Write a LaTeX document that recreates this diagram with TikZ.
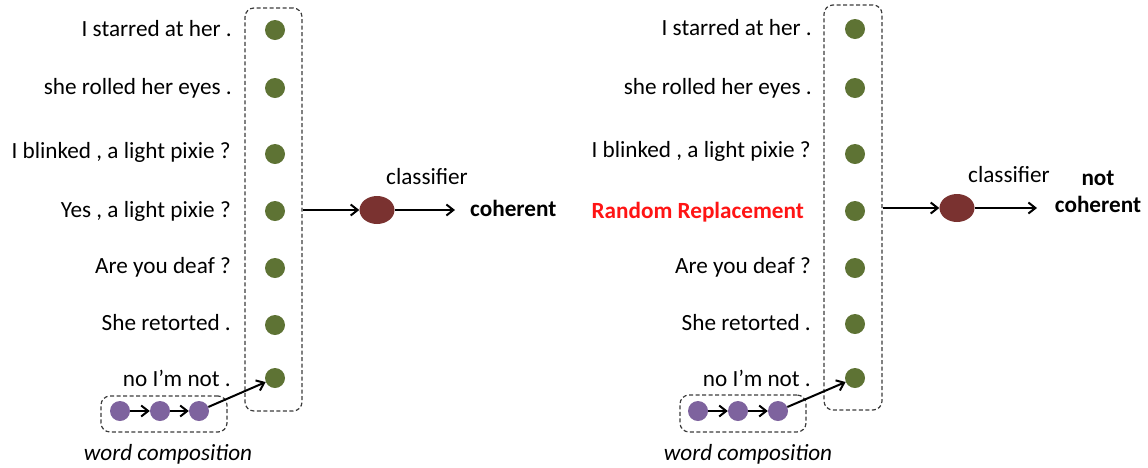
\documentclass[tikz,border=0pt]{standalone}
\usepackage{fontspec}
\setmainfont{Carlito}
\usetikzlibrary{arrows.meta,shapes.geometric}
\definecolor{gdotc}{RGB}{94,115,52}
\definecolor{pdotc}{RGB}{126,99,158}
\definecolor{clsc}{RGB}{122,50,48}
\definecolor{boxc}{RGB}{60,60,60}
\definecolor{redtxt}{RGB}{255,20,20}
\begin{document}
\begin{tikzpicture}[x=1pt,y=-1pt,
  txt/.style={inner sep=0pt,font=\fontsize{23.2}{28}\selectfont},
  sent/.style={txt,anchor=east},
  gdot/.style={circle,fill=gdotc,minimum size=20pt,inner sep=0pt},
  pdot/.style={circle,fill=pdotc,minimum size=20pt,inner sep=0pt},
  dbox/.style={draw=boxc,dash pattern=on 4pt off 2.5pt,line width=1.2pt,rounded corners=9pt,inner sep=0pt},
  cls/.style={ellipse,fill=clsc,minimum width=35pt,minimum height=28pt,inner sep=0pt},
  arr/.style={-{Straight Barb[length=7pt,width=11pt]},line width=2pt}
]
\useasboundingbox (0,0) rectangle (1148,467);
% ---------- left panel ----------
\node[sent] (s1) at (232,29) {I starred at her .};
\node[sent] (s2) at (232,88) {she rolled her eyes .};
\node[sent] (s3) at (231,152) {I blinked , a light pixie ?};
\node[sent] (s4) at (231,211) {Yes , a light pixie ?};
\node[sent] (s5) at (231,267) {Are you deaf ?};
\node[sent] (s6) at (231,323) {She retorted .};
\node[sent] (s7) at (231,378) {no I’m not .};
\node[gdot] (g1) at (275,30) {};
\node[gdot] (g2) at (275,88) {};
\node[gdot] (g3) at (275,154) {};
\node[gdot] (g4) at (275,211) {};
\node[gdot] (g5) at (275,268) {};
\node[gdot] (g6) at (275,325) {};
\node[gdot] (g7) at (275,378) {};
\node[dbox,minimum width=57pt,minimum height=403pt] (B) at (273.5,209.5) {};
\node[pdot] (p1) at (120,411) {};
\node[pdot] (p2) at (160,411) {};
\node[pdot] (p3) at (199,411) {};
\node[dbox,minimum width=126pt,minimum height=36pt] (P) at (164,414) {};
\node[txt,font=\fontsize{23.2}{28}\selectfont\itshape] (wc) at (168,454) {word composition};
\draw[arr] (p1) -- (p2);
\draw[arr] (p2) -- (p3);
\draw[arr] (p3) -- (g7);
\node[cls] (c) at (377,210) {};
\node[txt] (cl) at (427,177) {classifier};
\coordinate (o) at (455,210);
\node[txt,anchor=west,font=\fontsize{23.2}{28}\selectfont\bfseries] (res) at (470,208) {coherent};
\draw[arr] (B.east |- c) -- (c);
\draw[arr] (c) -- (o);
% ---------- right panel ----------
\node[sent] (t1) at (812,28) {I starred at her .};
\node[sent] (t2) at (812,88) {she rolled her eyes .};
\node[sent] (t3) at (811,151) {I blinked , a light pixie ?};
\node[sent,text=redtxt,font=\fontsize{23.2}{28}\selectfont\bfseries] (t4) at (804,212) {Random Replacement};
\node[sent] (t5) at (811,267) {Are you deaf ?};
\node[sent] (t6) at (811,323) {She retorted .};
\node[sent] (t7) at (811,378) {no I’m not .};
\node[gdot] (h1) at (855,29) {};
\node[gdot] (h2) at (855,88) {};
\node[gdot] (h3) at (855,154) {};
\node[gdot] (h4) at (855,211) {};
\node[gdot] (h5) at (855,268) {};
\node[gdot] (h6) at (855,324) {};
\node[gdot] (h7) at (855,378) {};
\node[dbox,minimum width=58pt,minimum height=405pt] (C) at (853,207.5) {};
\node[pdot] (q1) at (698,411) {};
\node[pdot] (q2) at (738,411) {};
\node[pdot] (q3) at (778,411) {};
\node[dbox,minimum width=126pt,minimum height=37pt] (Q) at (743,413.5) {};
\node[txt,font=\fontsize{23.2}{28}\selectfont\itshape] (wc2) at (748,454) {word composition};
\draw[arr] (q1) -- (q2);
\draw[arr] (q2) -- (q3);
\draw[arr] (q3) -- (h7);
\node[cls] (d) at (957,208) {};
\node[txt] (dl) at (1009,175) {classifier};
\coordinate (o2) at (1037,208);
\node[txt,align=center,font=\fontsize{23.2}{28}\selectfont\bfseries] (res2) at (1098,192) {not\\[-1pt]coherent};
\draw[arr] (C.east |- d) -- (d);
\draw[arr] (d) -- (o2);
\end{tikzpicture}
\end{document}
